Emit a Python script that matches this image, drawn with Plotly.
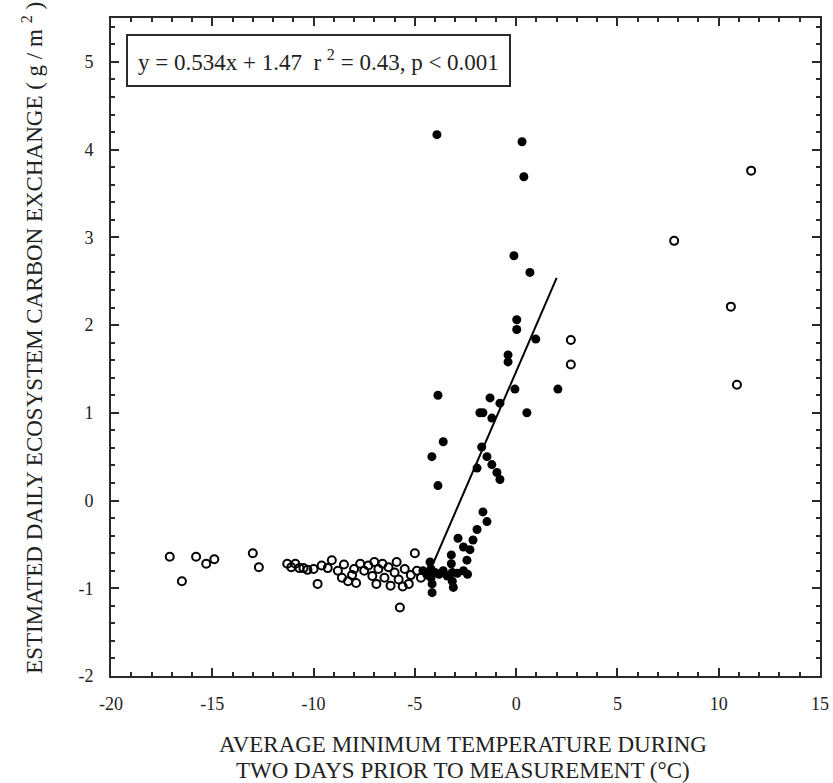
import plotly.graph_objects as go

# ---- data ----
open_x = [-17.1, -16.5, -15.8, -15.3, -14.9, -13.0, -12.7,
          -11.3, -11.1, -10.9, -10.7, -10.5, -10.3, -10.0, -9.8, -9.6, -9.3, -9.1,
          -8.8, -8.6, -8.5, -8.3, -8.1, -8.0, -7.9, -7.7, -7.5, -7.3, -7.1, -7.0,
          -6.9, -6.8, -6.6, -6.5, -6.3, -6.2, -6.0, -5.9, -5.8, -5.74, -5.6, -5.5,
          -5.3, -5.2, -5.0, -4.9, -4.7,
          2.7, 2.7, 7.8, 10.6, 10.9, 11.6]
open_y = [-0.64, -0.92, -0.64, -0.72, -0.67, -0.60, -0.76,
          -0.72, -0.76, -0.72, -0.77, -0.77, -0.79, -0.78, -0.95, -0.74, -0.77, -0.68,
          -0.80, -0.88, -0.73, -0.92, -0.85, -0.78, -0.94, -0.72, -0.80, -0.74, -0.86, -0.70,
          -0.95, -0.78, -0.72, -0.88, -0.76, -0.97, -0.82, -0.70, -0.90, -1.22, -0.98, -0.78,
          -0.95, -0.85, -0.60, -0.80, -0.88,
          1.83, 1.55, 2.96, 2.21, 1.32, 3.76]

filled_x = [-4.6, -4.4, -4.25, -4.2, -4.2, -4.15, -4.15, -4.0, -3.8, -3.6, -3.4,
            -3.2, -3.2, -3.15, -3.15, -3.1, -2.9, -2.6, -2.4,
            -2.87, -2.6, -2.43, -2.28, -2.13, -1.93, -1.64, -1.44,
            -4.16, -3.86, -3.6, -3.86,
            -1.93, -1.7, -1.44, -1.2, -0.95, -0.8,
            -1.79, -1.64, -1.29, -1.2, -0.8,
            -0.4, -0.4, -0.06, 0.03, 0.03, 0.53, 0.97, 2.06,
            -0.11, 0.68, 0.29, 0.38, -3.91]
filled_y = [-0.80, -0.85, -0.70, -0.78, -0.88, -0.95, -1.05, -0.82, -0.84, -0.80, -0.86,
            -0.62, -0.72, -0.82, -0.92, -0.99, -0.83, -0.80, -0.84,
            -0.43, -0.53, -0.68, -0.56, -0.45, -0.33, -0.13, -0.24,
            0.50, 0.17, 0.67, 1.20,
            0.37, 0.61, 0.50, 0.41, 0.32, 0.24,
            1.00, 1.00, 1.17, 0.94, 1.11,
            1.66, 1.58, 1.27, 2.06, 1.95, 1.00, 1.84, 1.27,
            2.79, 2.60, 4.09, 3.69, 4.17]

fit_slope = 0.534
fit_intercept = 1.47
fit_x_range = [-4.1, 2.0]
fit_y = [fit_slope * v + fit_intercept for v in fit_x_range]

x_ticks = [-20, -15, -10, -5, 0, 5, 10, 15]
y_ticks = [-2, -1, 0, 1, 2, 3, 4, 5]
x_ticktext = [str(v) for v in x_ticks]
y_ticktext = [str(v) for v in y_ticks]

FONT = "Liberation Serif"
AX = "#2a2a2a"

fig = go.Figure()
fig.add_trace(go.Scatter(x=open_x, y=open_y, mode="markers",
                         marker=dict(symbol="circle-open", size=8, color="black",
                                     line=dict(width=2, color="black")),
                         showlegend=False))
fig.add_trace(go.Scatter(x=filled_x, y=filled_y, mode="markers",
                         marker=dict(symbol="circle", size=9, color="black"),
                         showlegend=False))
fig.add_trace(go.Scatter(x=fit_x_range, y=fit_y, mode="lines",
                         line=dict(color="black", width=2), showlegend=False))

axis_common = dict(showline=True, linecolor=AX, linewidth=2, mirror="ticks",
                   ticks="inside", ticklen=8, tickwidth=2, tickcolor=AX,
                   showgrid=False, zeroline=False, automargin=False,
                   tickfont=dict(family=FONT, size=18, color="#222"))

fig.update_xaxes(range=[-20, 15], tickvals=x_ticks, ticktext=x_ticktext,
                 ticklabelstandoff=10,
                 minor=dict(dtick=1, ticks="inside", ticklen=4, tickwidth=2, tickcolor=AX),
                 **axis_common)
fig.update_yaxes(range=[-2, 5.5], tickvals=y_ticks, ticktext=y_ticktext,
                 ticklabelstandoff=12,
                 minor=dict(dtick=0.2, ticks="inside", ticklen=4, tickwidth=2, tickcolor=AX),
                 **axis_common)

fig.add_annotation(xref="paper", yref="paper", x=0.021, y=0.9757,
                   xanchor="left", yanchor="top", showarrow=False,
                   text="y = 0.534x + 1.47  r <sup>2</sup> = 0.43, p &lt; 0.001",
                   font=dict(family=FONT, size=23, color="#222"),
                   bordercolor=AX, borderwidth=2, borderpad=10, bgcolor="white")

fig.add_annotation(xref="paper", yref="paper", x=-0.11, y=0.514,
                   xanchor="center", yanchor="middle", textangle=-90, showarrow=False,
                   text="ESTIMATED DAILY ECOSYSTEM CARBON EXCHANGE ( g / m <sup>2</sup> )",
                   font=dict(family=FONT, size=23, color="#222"))

fig.add_annotation(xref="paper", yref="paper", x=0.496, y=-0.1034,
                   xanchor="center", yanchor="middle", showarrow=False,
                   text="AVERAGE MINIMUM TEMPERATURE DURING",
                   font=dict(family=FONT, size=23, color="#222"))
fig.add_annotation(xref="paper", yref="paper", x=0.496, y=-0.1429,
                   xanchor="center", yanchor="middle", showarrow=False,
                   text="TWO DAYS PRIOR TO MEASUREMENT (°C)",
                   font=dict(family=FONT, size=23, color="#222"))

fig.update_layout(width=833, height=783,
                  margin=dict(l=111, r=13, t=18, b=107),
                  plot_bgcolor="white", paper_bgcolor="white")

fig.write_html("out.html")
